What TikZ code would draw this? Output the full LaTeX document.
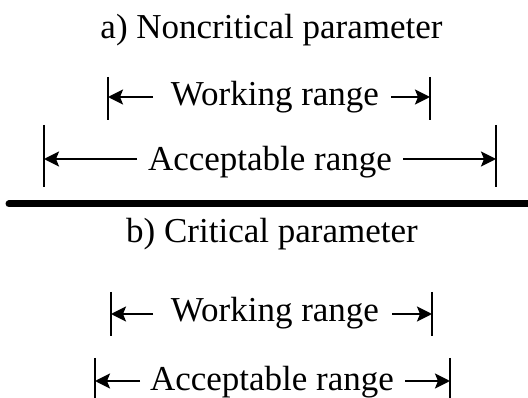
\documentclass[tikz,border=0pt]{standalone}
\usepackage{fontspec}
\setmainfont{Liberation Serif}
\usetikzlibrary{arrows.meta}
\tikzset{
  lbl/.style={anchor=base, inner sep=0pt, font=\fontsize{35}{41}\selectfont},
  shaft/.style={line width=2.2pt, -{Stealth[length=15pt,width=15pt,inset=3pt]}},
  bar/.style={line width=2.4pt},
  divider/.style={line width=7pt, line cap=round}
}
\begin{document}
\begin{tikzpicture}[x=1pt,y=-1pt]
\useasboundingbox (0,0) rectangle (528,398);
% titles
\node[lbl] (ta) at (271.5,39) {a) Noncritical parameter};
\node[lbl] (tb) at (272,243) {b) Critical parameter};
% row a working
\node[lbl] (aW) at (275,106) {Working range};
\coordinate (aWlt) at (108,77); \coordinate (aWlb) at (108,120); \coordinate (aWl) at (108,97);
\coordinate (aWrt) at (430,77); \coordinate (aWrb) at (430,120); \coordinate (aWr) at (430,97);
\coordinate (aWli) at (153,97); \coordinate (aWri) at (391,97);
\draw[bar] (aWlt) -- (aWlb);
\draw[bar] (aWrt) -- (aWrb);
\draw[shaft] (aWli) -- (aWl);
\draw[shaft] (aWri) -- (aWr);
% row a acceptable
\node[lbl] (aA) at (270,171) {Acceptable range};
\coordinate (aAlt) at (44,125); \coordinate (aAlb) at (44,187); \coordinate (aAl) at (44,159);
\coordinate (aArt) at (496,125); \coordinate (aArb) at (496,187); \coordinate (aAr) at (496,159);
\coordinate (aAli) at (137,159); \coordinate (aAri) at (403,159);
\draw[bar] (aAlt) -- (aAlb);
\draw[bar] (aArt) -- (aArb);
\draw[shaft] (aAli) -- (aAl);
\draw[shaft] (aAri) -- (aAr);
% divider
\coordinate (dl) at (9,204); \coordinate (dr) at (532,204);
\draw[divider] (dl) -- (dr);
% row b working
\node[lbl] (bW) at (275,322) {Working range};
\coordinate (bWlt) at (111,292); \coordinate (bWlb) at (111,336); \coordinate (bWl) at (111,314);
\coordinate (bWrt) at (432,292); \coordinate (bWrb) at (432,336); \coordinate (bWr) at (432,314);
\coordinate (bWli) at (153,314); \coordinate (bWri) at (392,314);
\draw[bar] (bWlt) -- (bWlb);
\draw[bar] (bWrt) -- (bWrb);
\draw[shaft] (bWli) -- (bWl);
\draw[shaft] (bWri) -- (bWr);
% row b acceptable
\node[lbl] (bA) at (272,390) {Acceptable range};
\coordinate (bAlt) at (95,358); \coordinate (bAlb) at (95,400); \coordinate (bAl) at (95,381);
\coordinate (bArt) at (450,358); \coordinate (bArb) at (450,400); \coordinate (bAr) at (450,381);
\coordinate (bAli) at (140,381); \coordinate (bAri) at (405,381);
\draw[bar] (bAlt) -- (bAlb);
\draw[bar] (bArt) -- (bArb);
\draw[shaft] (bAli) -- (bAl);
\draw[shaft] (bAri) -- (bAr);
\end{tikzpicture}
\end{document}
